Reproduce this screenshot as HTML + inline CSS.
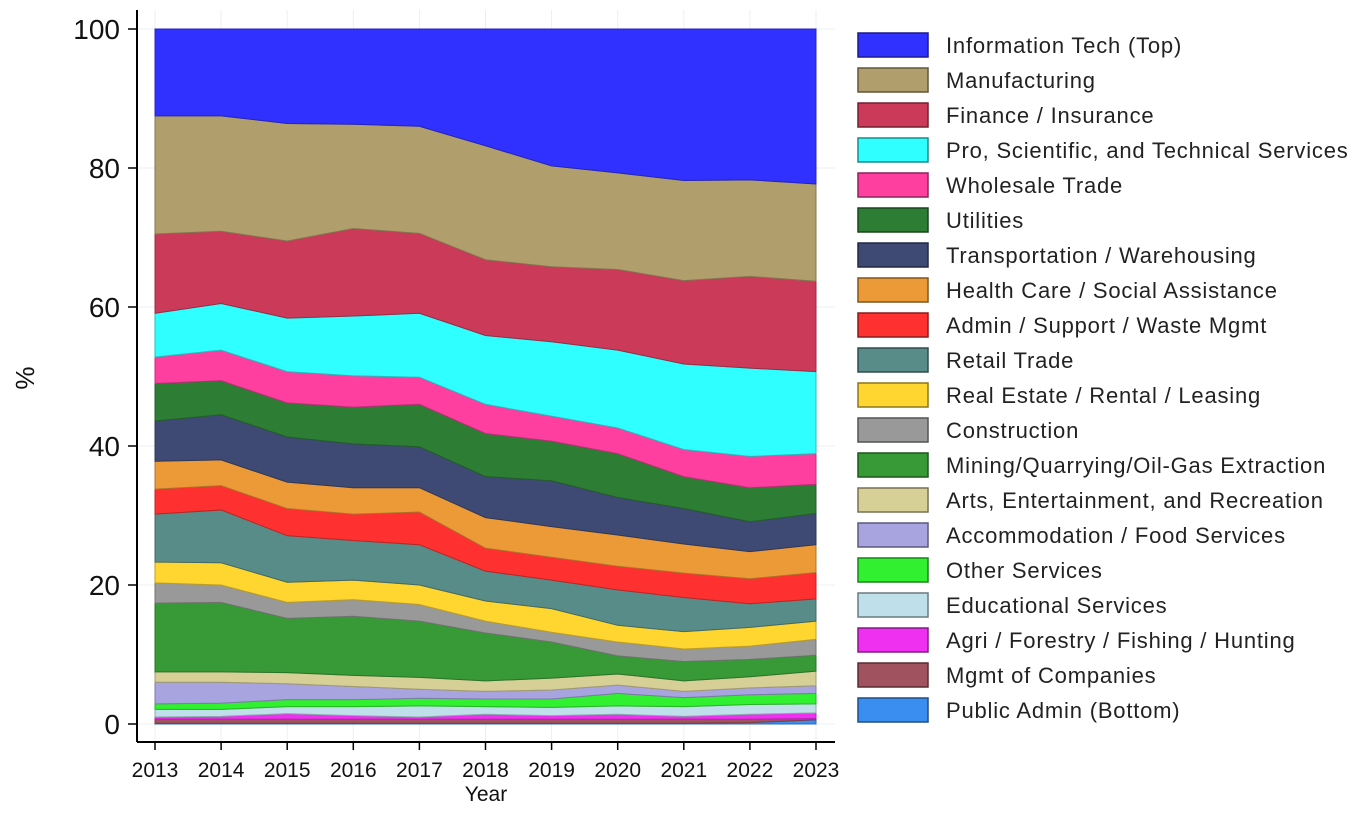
<!DOCTYPE html>
<html><head><meta charset="utf-8"><style>
body{margin:0;background:#fff;font-family:"Liberation Sans",sans-serif}
svg text{font-family:"Liberation Sans",sans-serif}
</style></head><body>
<svg id="chart" width="1353" height="810">
<g id="grid"></g>
<g id="areas"></g>
<g id="axes"></g>
<g id="legend"></g>
</svg>
<script>
const years=[2013,2014,2015,2016,2017,2018,2019,2020,2021,2022,2023];
const yTicks=[0,20,40,60,80,100];
const names=["Public Admin (Bottom)","Mgmt of Companies","Agri / Forestry / Fishing / Hunting","Educational Services","Other Services","Accommodation / Food Services","Arts, Entertainment, and Recreation","Mining/Quarrying/Oil-Gas Extraction","Construction","Real Estate / Rental / Leasing","Retail Trade","Admin / Support / Waste Mgmt","Health Care / Social Assistance","Transportation / Warehousing","Utilities","Wholesale Trade","Pro, Scientific, and Technical Services","Finance / Insurance","Manufacturing","Information Tech (Top)"];
const colors=["#3a8ef0","#a0525e","#f030f0","#bfe0ea","#30f030","#a8a4e0","#d6cf96","#379a37","#999999","#ffd630","#588c88","#ff3030","#ec9a38","#3e4a74","#2e7d35","#ff3fa0","#30ffff","#cc3a5a","#b09f6c","#3030ff"];
// cumulative top (%) of each series, bottom to top
const publicAdmin=[0.1,0.1,0.1,0.1,0.1,0.1,0.1,0.1,0.1,0.2,0.6];
const mgmt=[0.7,0.7,0.7,0.7,0.7,0.7,0.7,0.7,0.7,0.7,0.8];
const agri=[1.0,1.1,1.5,1.2,1.0,1.4,1.2,1.4,1.1,1.4,1.6];
const educ=[2.1,2.1,2.5,2.5,2.6,2.5,2.4,2.6,2.5,2.8,2.9];
const other=[2.9,3.0,3.5,3.5,3.7,3.6,3.6,4.4,3.8,4.2,4.4];
const accom=[6.0,6.0,5.8,5.4,5.0,4.7,4.9,5.6,4.7,5.2,5.5];
const arts=[7.5,7.5,7.4,7.0,6.7,6.2,6.6,7.2,6.2,6.8,7.6];
const mining=[17.4,17.5,15.2,15.5,14.8,13.1,11.8,9.8,9.0,9.3,9.9];
const construction=[20.3,20.0,17.5,17.9,17.2,14.8,13.2,11.8,10.8,11.2,12.2];
const realEstate=[23.3,23.2,20.4,20.7,20.0,17.7,16.6,14.2,13.3,13.9,14.8];
const retail=[30.2,30.8,27.1,26.4,25.8,22.0,20.7,19.3,18.2,17.3,18.0];
const adminSupport=[33.8,34.3,31.0,30.2,30.5,25.3,24.0,22.7,21.7,20.9,21.8];
const health=[37.8,38.0,34.8,34.0,34.0,29.7,28.4,27.2,25.9,24.8,25.8];
const transport=[43.6,44.5,41.3,40.3,39.9,35.6,35.0,32.6,31.0,29.1,30.3];
const utilities=[49.0,49.4,46.2,45.6,46.0,41.8,40.7,38.9,35.6,34.0,34.5];
const wholesale=[52.8,53.8,50.7,50.1,49.9,46.0,44.3,42.6,39.5,38.5,38.9];
const proSci=[59.1,60.5,58.4,58.7,59.1,55.9,55.0,53.8,51.8,51.2,50.7];
const finance=[70.5,70.9,69.5,71.3,70.6,66.8,65.8,65.4,63.8,64.4,63.7];
const manufacturing=[87.5,87.5,86.4,86.3,86.0,83.2,80.3,79.3,78.2,78.3,77.7];
const infoTech=[100,100,100,100,100,100,100,100,100,100,100];
const tops=[publicAdmin,mgmt,agri,educ,other,accom,arts,mining,construction,realEstate,retail,adminSupport,health,transport,utilities,wholesale,proSci,finance,manufacturing,infoTech];

const NS="http://www.w3.org/2000/svg";
const X=y=>155+(y-2013)*(816-155)/10;
const Y=v=>724-v*6.95;
function mk(tag,attrs,parent){const e=document.createElementNS(NS,tag);for(const k in attrs)e.setAttribute(k,attrs[k]);parent.appendChild(e);return e;}
function darker(c,f0){const n=parseInt(c.slice(1),16);const f=x=>Math.round(x*(f0||0.75));return `rgb(${f(n>>16)},${f((n>>8)&255)},${f(n&255)})`;}
const grid=document.getElementById('grid'),areas=document.getElementById('areas'),axes=document.getElementById('axes'),legend=document.getElementById('legend');
yTicks.forEach(t=>{const l=mk('line',{x1:137,x2:835,y1:Y(t),y2:Y(t),stroke:'#eceff2','stroke-width':1},grid);

});
years.forEach(y=>{const l=mk('line',{x1:X(y),x2:X(y),y1:10,y2:742,stroke:'#eceff2','stroke-width':1},grid);

});
tops.forEach((top,i)=>{
  const bot=i===0?years.map(()=>0):tops[i-1];
  let d='M'+years.map((y,j)=>X(y)+','+Y(top[j])).join(' L');
  d+=' L'+years.slice().reverse().map((y,jj)=>{const j=years.length-1-jj;return X(y)+','+Y(bot[j]);}).join(' L')+'Z';
  const p=mk('path',{d:d,fill:colors[i],stroke:darker(colors[i]),'stroke-width':1},areas);
  
  
});
mk('line',{x1:137,x2:137,y1:10,y2:742,stroke:'#000','stroke-width':2},axes);
mk('line',{x1:137,x2:835,y1:742,y2:742,stroke:'#000','stroke-width':2},axes);
yTicks.forEach(t=>{mk('line',{x1:128,x2:137,y1:Y(t),y2:Y(t),stroke:'#000','stroke-width':1.5},axes);
const tx=mk('text',{x:120,y:Y(t)+10,'text-anchor':'end','font-size':28,fill:'#111'},axes);tx.textContent=t;

});
years.forEach(y=>{mk('line',{x1:X(y),x2:X(y),y1:742,y2:750,stroke:'#000','stroke-width':1.5},axes);
const tx=mk('text',{x:X(y),y:777,'text-anchor':'middle','font-size':21,fill:'#111'},axes);tx.textContent=y;

});
const xt=mk('text',{x:486,y:801,'text-anchor':'middle','font-size':21,fill:'#111'},axes);xt.textContent='Year';


const yt=mk('text',{x:0,y:0,'text-anchor':'middle','font-size':26,fill:'#111',transform:'translate(34,378) rotate(-90)'},axes);yt.textContent='%';


for(let k=0;k<20;k++){const i=19-k;const yy=33+k*35;
  const g=mk('g',{},legend);
  
  
  mk('rect',{x:858,y:yy,width:70,height:24,fill:colors[i],stroke:darker(colors[i],0.55),'stroke-width':1.5},g);
  const tx=mk('text',{x:946,y:yy+20,'font-size':22,'letter-spacing':0.8,fill:'#222'},g);tx.textContent=names[i];
}
</script>
</body></html>
